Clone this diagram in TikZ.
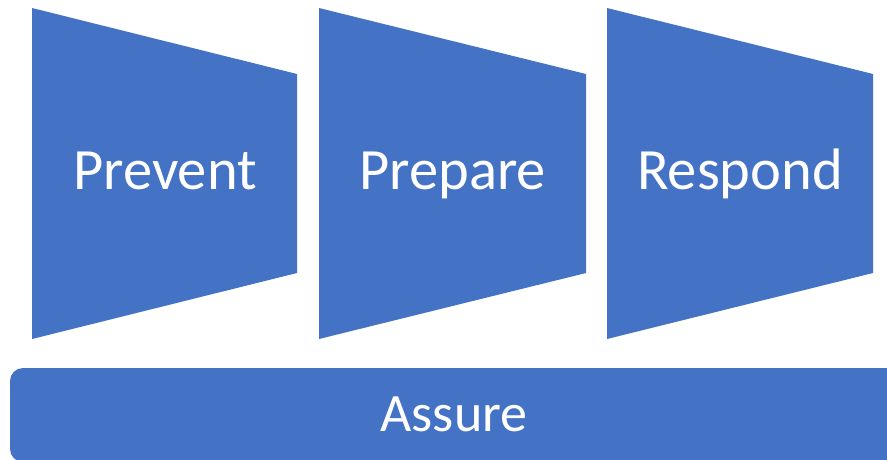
\documentclass[tikz,border=0pt]{standalone}
\usepackage{fontspec}
\setmainfont{Carlito}
\definecolor{blu}{HTML}{4472C4}
\begin{document}
\begin{tikzpicture}[x=1pt,y=-1pt,
  stage/.style={fill=blu,draw=none},
  lbl/.style={text=white,font=\fontsize{58.5}{62}\selectfont,anchor=base,inner sep=0pt},
  blbl/.style={lbl,font=\fontsize{54}{60}\selectfont}]
\useasboundingbox (0,0) rectangle (887,459);
\clip (0,0) rectangle (887,459);
\fill[stage] (32,8) -- (297,74) -- (297,273) -- (32,339) -- cycle;
\fill[stage] (319,8) -- (586,74) -- (586,273) -- (319,339) -- cycle;
\fill[stage] (607,8) -- (873,74) -- (873,273) -- (607,339) -- cycle;
\fill[stage,rounded corners=13pt] (10,368) rectangle (899,462);
\node[lbl] (prevent) at (165,189) {Prevent};
\node[lbl] (prepare) at (452.5,189) {Prepare};
\node[lbl] (respond) at (740,189) {Respond};
\node[blbl] (assure) at (454,431) {Assure};
\end{tikzpicture}
\end{document}
